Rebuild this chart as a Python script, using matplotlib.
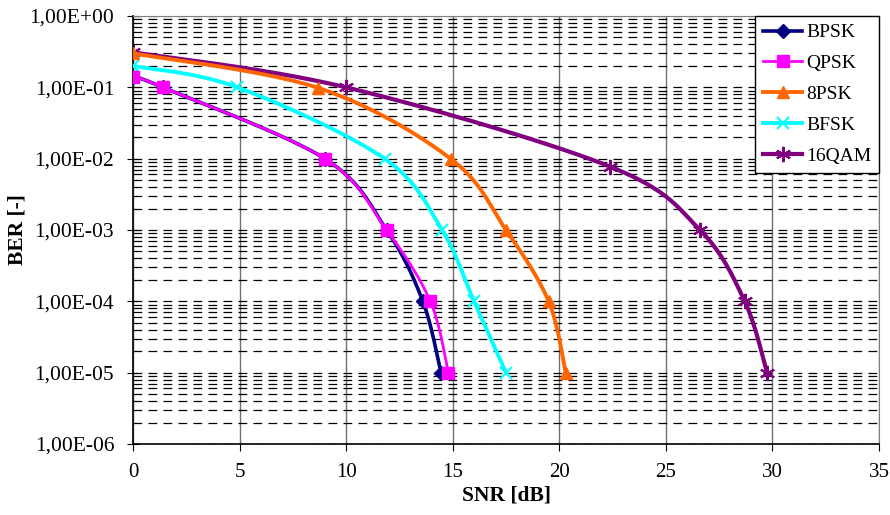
import numpy as np
import matplotlib
matplotlib.use("Agg")
import matplotlib.pyplot as plt
from matplotlib.ticker import FixedLocator, FuncFormatter, LogLocator, NullFormatter

plt.rcParams['font.family'] = ['Liberation Serif', 'DejaVu Serif']

series_names = ["BPSK", "QPSK", "8PSK", "BFSK", "16QAM"]

bpsk_snr = [0, 1.4, 9.0, 11.9, 13.6, 14.45]
bpsk_ber = [0.14, 0.1, 0.01, 0.001, 1e-4, 1e-5]

qpsk_snr = [0, 1.4, 9.0, 11.9, 13.95, 14.8]
qpsk_ber = [0.14, 0.1, 0.01, 0.001, 1e-4, 1e-5]

psk8_snr = [0, 8.7, 14.9, 17.5, 19.5, 20.3]
psk8_ber = [0.3, 0.098, 0.01, 0.001, 1e-4, 1e-5]

bfsk_snr = [0, 4.9, 11.8, 14.5, 16.0, 17.5]
bfsk_ber = [0.2, 0.1, 0.01, 0.001, 1e-4, 1e-5]

qam16_snr = [0, 10.0, 22.4, 26.6, 28.7, 29.75]
qam16_ber = [0.31, 0.1, 0.0077, 0.001, 1e-4, 1e-5]

x_ticks = [0, 5, 10, 15, 20, 25, 30, 35]
y_ticks = [1e-6, 1e-5, 1e-4, 1e-3, 1e-2, 1e-1, 1e0]

colors = ["#000080", "#FF00FF", "#FF6600", "#00FFFF", "#800080"]
markers = ["D", "s", "^", "x", (6, 2, 0)]
msizes = [7, 9, 9, 9, 11]
lwidths = [2.6, 2.0, 2.8, 2.8, 3.0]


def smooth(x, y, n=30):
    """Bezier smoothing like Excel smoothed lines, done in log space."""
    x = np.asarray(x, float)
    ly = np.log10(np.asarray(y, float))
    P = np.column_stack([x, ly])
    P = np.vstack([P[0], P, P[-1]])
    out = []
    for i in range(1, len(P) - 2):
        p0, p1, p2, p3 = P[i - 1], P[i], P[i + 1], P[i + 2]
        c1 = p1 + (p2 - p0) / 6.0
        c2 = p2 - (p3 - p1) / 6.0
        t = np.linspace(0, 1, n)[:, None]
        seg = ((1 - t) ** 3) * p1 + 3 * ((1 - t) ** 2) * t * c1 + 3 * (1 - t) * t ** 2 * c2 + t ** 3 * p2
        out.append(seg if i == 1 else seg[1:])
    S = np.vstack(out)
    return S[:, 0], 10 ** S[:, 1]


fig = plt.figure(figsize=(8.9, 5.15), dpi=100)
ax = fig.add_axes([133 / 890, 1 - 444 / 515, (879 - 133) / 890, (444 - 16) / 515])

data = [(bpsk_snr, bpsk_ber), (qpsk_snr, qpsk_ber), (psk8_snr, psk8_ber),
        (bfsk_snr, bfsk_ber), (qam16_snr, qam16_ber)]
zorders = [5, 6, 4, 3, 2]

for (xs, ys), name, c, m, ms, lw, z in zip(data, series_names, colors, markers, msizes, lwidths, zorders):
    sx, sy = smooth(xs, ys)
    ax.plot(sx, sy, color=c, lw=lw, zorder=z)
    mew = 1.5 if m in ("x", (6, 2, 0)) else 1
    ax.plot(xs, ys, linestyle='none', marker=m, ms=ms, color=c, mec=c, mew=mew, zorder=z)
    ax.plot([], [], color=c, lw=lw, marker=m, ms=ms, mew=mew, label=name)

ax.set_yscale('log')
ax.set_ylim(1e-6, 1)
ax.set_xlim(0, 35)
ax.xaxis.set_major_locator(FixedLocator(x_ticks))
ax.yaxis.set_major_locator(FixedLocator(y_ticks))
ax.yaxis.set_minor_locator(LogLocator(base=10, subs=np.arange(2, 10), numticks=20))
ax.yaxis.set_minor_formatter(NullFormatter())
ax.yaxis.set_major_formatter(FuncFormatter(lambda v, p: ("%.2E" % v).replace('.', ',')))

ax.grid(True, axis='x', which='major', color='#707070', lw=1.0, ls='-')
ax.grid(True, axis='y', which='both', color='black', lw=0.9, ls=(0, (7, 5)))
ax.set_axisbelow(True)

ax.tick_params(axis='y', which='major', direction='inout', length=9, labelsize=15.5, pad=9)
ax.tick_params(axis='y', which='minor', length=0)
ax.tick_params(axis='x', which='major', direction='out', length=5, labelsize=15, pad=9)
for s in ['left', 'bottom']:
    ax.spines[s].set_color('black')
    ax.spines[s].set_linewidth(1.2)
for s in ['top', 'right']:
    ax.spines[s].set_color('#808080')

ax.set_xlabel('SNR [dB]', fontsize=15.5, fontweight='bold')
ax.xaxis.set_label_coords(0.5, -0.097)
ax.set_ylabel('BER [-]', fontsize=15.5, fontweight='bold')
ax.yaxis.set_label_coords(-0.142, 0.5)

leg = ax.legend(loc='upper right', bbox_to_anchor=(1.0, 1.0), fontsize=14, frameon=True,
                fancybox=False, edgecolor='black', framealpha=1, handlelength=2.0,
                borderpad=0.4, labelspacing=0.68, handletextpad=0.2, borderaxespad=0)
leg.get_frame().set_linewidth(1.0)
leg.set_zorder(10)

fig.savefig('out.png', dpi=100)
